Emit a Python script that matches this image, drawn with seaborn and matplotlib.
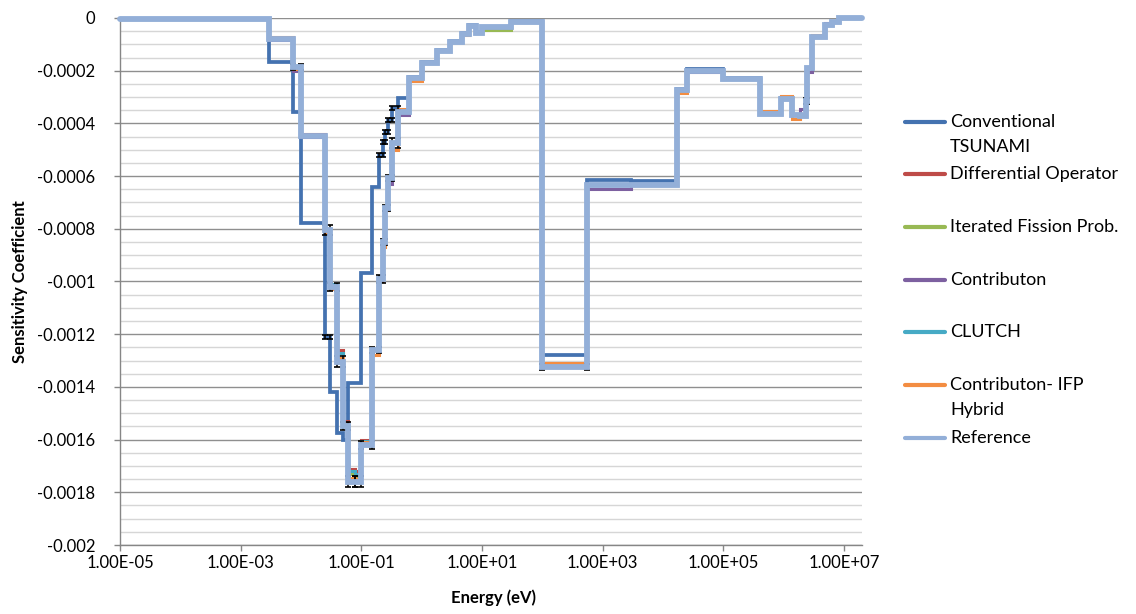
import numpy as np
import pandas as pd
import matplotlib
matplotlib.use("Agg")
import matplotlib.pyplot as plt
import seaborn as sns
from matplotlib.lines import Line2D
from matplotlib.ticker import MultipleLocator, NullLocator

# Group boundaries (eV), ascending
energy_bounds = [1e-5, 5e-4, 3e-3, 7.5e-3, 1e-2, 2.53e-2, 3e-2, 4e-2, 5e-2, 6e-2,
                 8e-2, 1e-1, 1.5e-1, 2e-1, 2.25e-1, 2.5e-1, 2.75e-1, 3.25e-1, 4e-1, 6.25e-1,
                 1.0, 1.77, 3.0, 4.75, 6.0, 8.1, 10.0, 30.0, 100.0, 550.0,
                 3e3, 1.7e4, 2.5e4, 1e5, 4e5, 9e5, 1.4e6, 1.85e6, 2.354e6, 2.479e6,
                 3e6, 4.8e6, 6.434e6, 8.187e6, 2e7]

# Group-wise sensitivity coefficients
tsunami = [-0.000002, -0.000002, -0.000166, -0.000356, -0.000777,
           -0.00121, -0.00142, -0.001575, -0.0016, -0.001385,
           -0.001385, -0.000967, -0.000643, -0.00052, -0.00047,
           -0.000432, -0.000387, -0.000342, -0.000304, -0.000223,
           -0.000166, -0.000121, -0.000088, -0.000058, -0.000027,
           -0.000054, -0.000033, -0.000013, -0.00128, -0.000614,
           -0.000618, -0.00027, -0.000195, -0.000229, -0.000362,
           -0.000304, -0.000368, -0.00037, -0.000314, -0.00019,
           -0.000073, -0.000025, -0.000014, -0.000001]

diff_operator = [-0.000002, -0.000002, -0.00008, -0.000184, -0.00044,
                 -0.0008, -0.00101, -0.00126, -0.00153, -0.00171,
                 -0.00172, -0.0016, -0.001255, -0.00099, -0.00085,
                 -0.00072, -0.000605, -0.000472, -0.000355, -0.000227,
                 -0.00017, -0.000123, -0.00009, -0.00006, -0.00003,
                 -0.000056, -0.000033, -0.00001, -0.001322, -0.00063,
                 -0.00063, -0.000273, -0.0002, -0.000233, -0.000363,
                 -0.000306, -0.00037, -0.000372, -0.000315, -0.000191,
                 -0.000073, -0.000026, -0.000013, -0.000001]

ifp = [-0.000002, -0.000002, -0.000081, -0.000187, -0.000449,
       -0.000808, -0.00102, -0.00129, -0.00154, -0.00173,
       -0.00174, -0.00161, -0.00126, -0.00099, -0.00085,
       -0.00072, -0.000607, -0.000474, -0.000357, -0.000229,
       -0.00017, -0.000124, -0.00009, -0.00006, -0.00003,
       -0.000056, -0.000046, -0.000014, -0.00132, -0.000633,
       -0.000632, -0.000274, -0.0002, -0.000233, -0.000364,
       -0.000307, -0.00037, -0.000372, -0.000315, -0.000191,
       -0.000074, -0.000026, -0.000014, -0.000001]

contributon = [-0.000002, -0.000002, -0.000082, -0.0002, -0.000452,
               -0.00081, -0.001013, -0.0013, -0.00155, -0.00176,
               -0.00175, -0.00162, -0.00126, -0.00098, -0.00085,
               -0.00072, -0.00063, -0.00047, -0.000368, -0.00023,
               -0.000166, -0.000124, -0.00009, -0.000056, -0.00003,
               -0.000056, -0.000033, -0.000014, -0.001325, -0.00065,
               -0.000632, -0.000273, -0.000206, -0.000233, -0.000364,
               -0.000307, -0.00037, -0.000345, -0.000315, -0.000205,
               -0.000074, -0.000019, -0.000014, -0.000001]

clutch = [-0.000002, -0.000002, -0.000081, -0.000186, -0.000448,
          -0.000808, -0.00101, -0.00127, -0.00154, -0.00172,
          -0.00173, -0.001605, -0.00126, -0.00098, -0.00085,
          -0.00072, -0.000607, -0.000474, -0.000357, -0.000228,
          -0.00017, -0.000124, -0.00009, -0.00006, -0.00003,
          -0.000056, -0.000033, -0.000014, -0.001318, -0.000632,
          -0.000632, -0.000273, -0.0002, -0.000233, -0.000364,
          -0.000307, -0.00037, -0.000372, -0.000315, -0.000191,
          -0.000074, -0.000026, -0.000014, -0.000001]

hybrid = [-0.000002, -0.000002, -0.000073, -0.000195, -0.000445,
          -0.000815, -0.00103, -0.00129, -0.001545, -0.001745,
          -0.00175, -0.00161, -0.00128, -0.001, -0.00087,
          -0.00073, -0.00061, -0.0005, -0.000347, -0.000238,
          -0.00017, -0.000124, -0.00009, -0.000064, -0.00003,
          -0.000056, -0.000033, -0.000014, -0.00131, -0.00063,
          -0.000632, -0.000283, -0.0002, -0.000233, -0.000352,
          -0.000296, -0.000385, -0.000372, -0.000315, -0.000191,
          -0.000064, -0.000026, -0.000014, -0.000001]

reference = [-0.000002, -0.000002, -0.000081, -0.000186, -0.000448,
             -0.000805, -0.00102, -0.001304, -0.00155, -0.00176,
             -0.00176, -0.00162, -0.00126, -0.00099, -0.00085,
             -0.00072, -0.000607, -0.000474, -0.000357, -0.000228,
             -0.00017, -0.000124, -0.00009, -0.00006, -0.00003,
             -0.000056, -0.000033, -0.000014, -0.001325, -0.000632,
             -0.000632, -0.000273, -0.0002, -0.000233, -0.000364,
             -0.000307, -0.00037, -0.000372, -0.000315, -0.000191,
             -0.000074, -0.000026, -0.000014, -0.000001]

# One-sigma uncertainties (zero where not shown)
reference_err = [0, 0, 0, 1.2e-5, 0,
                 1.8e-5, 1.5e-5, 2e-5, 1.5e-5, 2e-5,
                 2e-5, 1.5e-5, 1.2e-5, 1.5e-5, 1.2e-5,
                 1.2e-5, 1.2e-5, 2e-5, 0, 0,
                 0, 0, 0, 0, 0,
                 0, 0, 0, 1.2e-5, 0,
                 0, 0, 0, 0, 0,
                 0, 0, 0, 1.2e-5, 0,
                 0, 0, 0, 0]
tsunami_err = [0, 0, 0, 0, 0,
               8e-6, 0, 0, 0, 0,
               0, 0, 0, 8e-6, 8e-6,
               8e-6, 8e-6, 8e-6, 0, 0,
               0, 0, 0, 0, 0,
               0, 0, 0, 0, 0,
               0, 0, 0, 0, 0,
               0, 0, 0, 0, 0,
               0, 0, 0, 0]

legend_labels = ["Conventional\nTSUNAMI", "Differential Operator", "Iterated Fission Prob.",
                 "Contributon", "CLUTCH", "Contributon- IFP\nHybrid", "Reference"]
series_values = [tsunami, diff_operator, ifp, contributon, clutch, hybrid, reference]
colors = ["#4472B0", "#BE4B48", "#98B954", "#7D60A0", "#46AAC5", "#F38D42", "#93AFD8"]
widths = [2.7, 2.2, 2.2, 2.2, 2.2, 2.2, 4.2]
orders = [2.0, 2.1, 2.2, 2.3, 2.4, 2.5, 3.0]

x_ticks = [1e-5, 1e-3, 1e-1, 1e1, 1e3, 1e5, 1e7]
x_ticklabels = ["1.00E-05", "1.00E-03", "1.00E-01", "1.00E+01", "1.00E+03", "1.00E+05", "1.00E+07"]
y_ticks = [0, -0.0002, -0.0004, -0.0006, -0.0008, -0.001, -0.0012, -0.0014, -0.0016, -0.0018, -0.002]
y_ticklabels = ["0", "-0.0002", "-0.0004", "-0.0006", "-0.0008", "-0.001", "-0.0012",
                "-0.0014", "-0.0016", "-0.0018", "-0.002"]

sns.set_theme(style="white")
plt.rcParams["font.family"] = ["Lato", "DejaVu Sans"]

W, H = 1136, 614
fig = plt.figure(figsize=(W / 100, H / 100), dpi=100)
fig.patch.set_facecolor("white")
ax = fig.add_axes([120 / W, 1 - 545 / H, (862 - 120) / W, (545 - 18) / H])

# Step curves, one per method
rows = []
for label, vals in zip(legend_labels, series_values):
    for e, v in zip(energy_bounds, list(vals) + [vals[-1]]):
        rows.append({"method": label, "energy": e, "value": v})
df = pd.DataFrame(rows)

for label, color, lw, z in zip(legend_labels, colors, widths, orders):
    sub = df[df["method"] == label]
    sns.lineplot(data=sub, x="energy", y="value", ax=ax, color=color, linewidth=lw,
                 drawstyle="steps-post", estimator=None, sort=False, legend=False,
                 zorder=z, solid_joinstyle="miter", clip_on=False)

# Uncertainty bars at both ends of each group
lo = np.array(energy_bounds[:-1])
hi = np.array(energy_bounds[1:])
for vals, errs in [(tsunami, tsunami_err), (reference, reference_err)]:
    vals = np.array(vals)
    errs = np.array(errs)
    m = errs > 0
    ex = np.concatenate([lo[m], hi[m]])
    ey = np.concatenate([vals[m], vals[m]])
    ee = np.concatenate([errs[m], errs[m]])
    ax.errorbar(ex, ey, yerr=ee, fmt="none", ecolor="black", elinewidth=1.1,
                capsize=2.5, capthick=1.2, zorder=2.8)

ax.set_xscale("log")
ax.set_xlim(1e-5, 2e7)
ax.set_ylim(-0.002, 0)

ax.set_xticks(x_ticks)
ax.set_xticklabels(x_ticklabels)
ax.xaxis.set_minor_locator(NullLocator())
ax.set_yticks(y_ticks)
ax.set_yticklabels(y_ticklabels)
ax.yaxis.set_minor_locator(MultipleLocator(0.00005))

ax.grid(False)
ax.grid(which="major", axis="y", color="#8F8F8F", linewidth=1.0, zorder=0)
ax.grid(which="minor", axis="y", color="#D6D6D6", linewidth=1.0, zorder=0)
ax.set_axisbelow(True)

for s in ["top", "right"]:
    ax.spines[s].set_visible(False)
for s in ["left", "bottom"]:
    ax.spines[s].set_color("#868686")
    ax.spines[s].set_linewidth(1.0)

ax.tick_params(axis="y", which="major", direction="out", length=4, width=1, color="#868686",
               labelsize=12, labelcolor="black", pad=14, left=True)
ax.tick_params(axis="y", which="minor", length=0)
ax.tick_params(axis="x", which="major", direction="out", length=4, width=1, color="#868686",
               labelsize=12, labelcolor="black", pad=3, bottom=True)

ax.set_xlabel("Energy (eV)", fontsize=12, fontweight="bold", color="black")
ax.set_ylabel("Sensitivity Coefficient", fontsize=12, fontweight="bold", color="black")
ax.xaxis.set_label_coords((494 - 120) / 742, (545 - 589) / 527)
ax.yaxis.set_label_coords((28 - 120) / 742, 0.5)

# Legend drawn in figure coordinates
legend_y = [121.7, 174, 226.7, 280, 332.3, 385, 438.3]
for label, color, y in zip(legend_labels, colors, legend_y):
    yf = 1 - y / H
    fig.add_artist(Line2D([905 / W, 945 / W], [yf, yf], transform=fig.transFigure,
                          color=color, linewidth=3))
    for k, part in enumerate(label.split("\n")):
        fig.text(950 / W, 1 - (y + 25 * k) / H, part, ha="left", va="center",
                 fontsize=13, color="black")

fig.savefig("out.png", dpi=100, facecolor="white")
